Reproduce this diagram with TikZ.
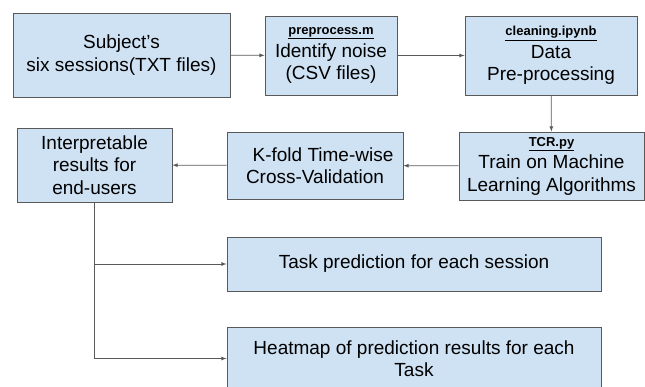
\documentclass[tikz,border=0pt]{standalone}
\usepackage{fontspec}
\setmainfont{Liberation Sans}
\usepackage{tikz}
\definecolor{boxblue}{RGB}{207,226,243}
\definecolor{linegray}{RGB}{89,89,89}

\begin{document}
\begin{tikzpicture}[x=1pt, y=1pt,
		box/.style={rectangle, draw=linegray, fill=boxblue, line width=0.9pt, inner sep=0pt, align=center, font=\fontsize{19}{22.5}\selectfont},
		link/.style={->,>=latex, line width=0.8pt, color=linegray}]
		      \useasboundingbox (0,0) rectangle (645,386);

		      \node[box, minimum width=217pt, minimum height=84pt] (subj) at (121.5,331) {Subject's\\six sessions(TXT files)};
		      \node[box, minimum width=132pt, minimum height=79pt] (prep) at (331,330.5) {{\fontsize{13}{15}\selectfont\bfseries\underline{preprocess.m}}\\Identify noise\\(CSV files)};
		      \node[box, minimum width=172pt, minimum height=79pt] (clean) at (551,330.5) {{\fontsize{13}{15}\selectfont\bfseries\underline{cleaning.ipynb}}\\Data\\Pre-processing};

		      \node[box, minimum width=185pt, minimum height=68pt] (tcr) at (551.5,220) {{\fontsize{13}{15}\selectfont\bfseries\underline{TCR.py}}\\Train on Machine\\Learning Algorithms};
		      \node[box, minimum width=176pt, minimum height=67pt] (kfold) at (315,220.5) {\hspace*{16pt}K-fold Time-wise\\Cross-Validation};
		      \node[box, minimum width=155pt, minimum height=74pt] (interp) at (94.5,221) {Interpretable\\results for\\end-users};

		      \node[box, minimum width=374pt, minimum height=54pt] (task) at (414,122) {Task prediction for each session};
		      \node[box, minimum width=374pt, minimum height=63pt] (heat) at (414,27.5) {Heatmap of prediction results for each\\Task};

		      \draw[link] (subj) -- (prep);
		      \draw[link] (prep) -- (clean);
		      \draw[link] (clean) -- (tcr);
		      \draw[link] (tcr) -- (kfold);
		      \draw[link] (kfold) -- (interp);

		      \draw[link] (interp) |- (task);
		      \draw[link] (interp) |- (heat);

	      \end{tikzpicture}
\end{document}
